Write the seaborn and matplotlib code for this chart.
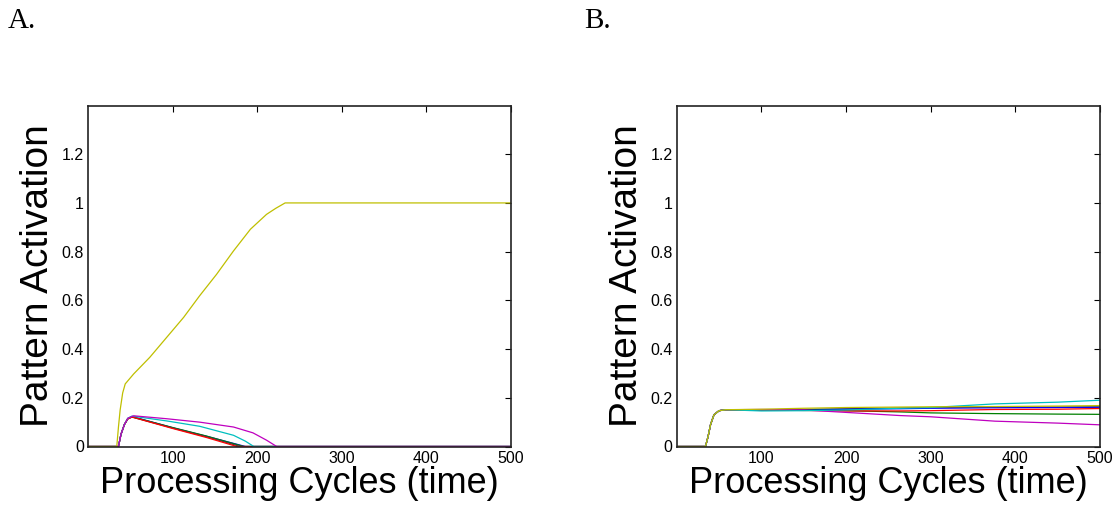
import matplotlib
matplotlib.use("Agg")
import matplotlib.pyplot as plt
import seaborn as sns
import pandas as pd

# ---------------- Panel A data ----------------
a_yellow_x = [1, 34, 36, 38, 41, 44, 54, 73, 93, 113, 132, 152, 172, 192, 211, 222, 233, 500]
a_yellow_y = [0, 0, 0.08, 0.15, 0.22, 0.257, 0.298, 0.366, 0.448, 0.53, 0.619, 0.707, 0.803, 0.892, 0.953, 0.978, 1.0, 1.0]

a_red_x = [1, 36, 39, 43, 47, 52, 100, 140, 176, 500]
a_red_y = [0, 0, 0.05, 0.09, 0.113, 0.121, 0.074, 0.037, 0, 0]

a_black_x = [1, 36, 39, 43, 47, 52, 100, 140, 180, 500]
a_black_y = [0, 0, 0.05, 0.09, 0.113, 0.121, 0.076, 0.040, 0, 0]

a_green_x = [1, 36, 39, 43, 47, 52, 100, 140, 184, 500]
a_green_y = [0, 0, 0.05, 0.09, 0.114, 0.122, 0.078, 0.043, 0, 0]

a_blue_x = [1, 36, 39, 43, 47, 52, 100, 140, 186, 500]
a_blue_y = [0, 0, 0.05, 0.09, 0.114, 0.123, 0.077, 0.042, 0, 0]

a_cyan_x = [1, 36, 39, 43, 47, 52, 93, 132, 172, 186, 196, 500]
a_cyan_y = [0, 0, 0.05, 0.09, 0.116, 0.125, 0.105, 0.083, 0.046, 0.022, 0, 0]

a_magenta_x = [1, 36, 39, 43, 47, 54, 93, 132, 172, 195, 211, 223, 500]
a_magenta_y = [0, 0, 0.05, 0.09, 0.116, 0.126, 0.114, 0.100, 0.080, 0.056, 0.026, 0, 0]

# ---------------- Panel B data ----------------
b_x = [1, 34, 37, 40, 44, 50, 58, 100, 150, 200, 264, 300, 376, 450, 500]
b_rise = [0, 0, 0.04, 0.09, 0.13, 0.147, 0.151]
b_cyan_tail = [0.146, 0.147, 0.150, 0.157, 0.160, 0.175, 0.182, 0.190]
b_yellow_tail = [0.153, 0.157, 0.160, 0.162, 0.163, 0.164, 0.166, 0.168]
b_black_tail = [0.150, 0.152, 0.155, 0.158, 0.160, 0.161, 0.162, 0.163]
b_blue_tail = [0.150, 0.151, 0.153, 0.155, 0.157, 0.159, 0.160, 0.161]
b_red_tail = [0.150, 0.148, 0.146, 0.146, 0.147, 0.152, 0.153, 0.156]
b_green_tail = [0.151, 0.150, 0.147, 0.142, 0.138, 0.135, 0.133, 0.132]
b_magenta_tail = [0.152, 0.150, 0.140, 0.127, 0.122, 0.104, 0.096, 0.089]

x_ticks = [100, 200, 300, 400, 500]
y_ticks = [0, 0.2, 0.4, 0.6, 0.8, 1.0, 1.2]
y_tick_labels = ["0", "0.2", "0.4", "0.6", "0.8", "1", "1.2"]

colors = {
    "b": (0, 0, 1), "g": (0, 0.5, 0), "r": (1, 0, 0), "c": (0, 0.75, 0.75),
    "m": (0.75, 0, 0.75), "y": (0.75, 0.75, 0), "k": (0.25, 0.25, 0.25),
}


def frame(series):
    rows = []
    for name, xs, ys in series:
        for xv, yv in zip(xs, ys):
            rows.append({"series": name, "t": xv, "act": yv})
    return pd.DataFrame(rows)


df_a = frame([
    ("b", a_blue_x, a_blue_y), ("g", a_green_x, a_green_y), ("k", a_black_x, a_black_y),
    ("r", a_red_x, a_red_y), ("c", a_cyan_x, a_cyan_y), ("m", a_magenta_x, a_magenta_y),
    ("y", a_yellow_x, a_yellow_y),
])
df_b = frame([
    ("k", b_x, b_rise + b_black_tail), ("b", b_x, b_rise + b_blue_tail),
    ("g", b_x, b_rise + b_green_tail), ("r", b_x, b_rise + b_red_tail),
    ("m", b_x, b_rise + b_magenta_tail), ("c", b_x, b_rise + b_cyan_tail),
    ("y", b_x, b_rise + b_yellow_tail),
])

sns.set_style("white")
plt.rcParams["font.family"] = ["Liberation Sans", "DejaVu Sans"]
plt.rcParams["text.color"] = "black"
plt.rcParams["axes.labelcolor"] = "black"
plt.rcParams["xtick.color"] = "black"
plt.rcParams["ytick.color"] = "black"

fig = plt.figure(figsize=(11.17, 5.12), dpi=100)
ax_a = fig.add_axes([88 / 1117, 1 - 446.5 / 512, (511 - 88) / 1117, (446.5 - 105.5) / 512])
ax_b = fig.add_axes([676.7 / 1117, 1 - 446.5 / 512, (1100 - 676.7) / 1117, (446.5 - 105.5) / 512])

for ax, df in [(ax_a, df_a), (ax_b, df_b)]:
    sns.lineplot(data=df, x="t", y="act", hue="series", palette=colors,
                 estimator=None, linewidth=0.9, legend=False, ax=ax)
    ax.set_xlim(0, 500)
    ax.set_ylim(0, 1.4)
    ax.set_xticks(x_ticks)
    ax.set_xticklabels([str(v) for v in x_ticks])
    ax.set_yticks(y_ticks)
    ax.set_yticklabels(y_tick_labels)
    ax.tick_params(direction="in", length=4, width=0.8, colors="black",
                   labelcolor="black", labelsize=11.5, top=True, right=True, pad=3)
    for sp in ax.spines.values():
        sp.set_visible(True)
        sp.set_color("#222222")
        sp.set_linewidth(1.2)
    ax.set_xlabel("Processing Cycles (time)", fontsize=26, labelpad=0, color="black")
    ax.set_ylabel("Pattern Activation", fontsize=28, labelpad=4, color="black")
    ax.set_facecolor("white")

fig.text(8 / 1117, 1 - 28 / 512, "A.", fontsize=21, color="black",
         family=["Liberation Serif", "DejaVu Serif"])
fig.text(584 / 1117, 1 - 28 / 512, "B.", fontsize=21, color="black",
         family=["Liberation Serif", "DejaVu Serif"])

fig.savefig("out.png", dpi=100, facecolor="white")
